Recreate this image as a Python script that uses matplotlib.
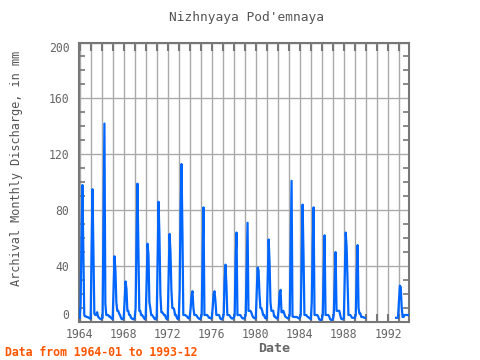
import numpy as np
import matplotlib
matplotlib.use("Agg")
import matplotlib.pyplot as plt
from matplotlib.ticker import MultipleLocator

title = "Nizhnyaya Pod'emnaya"
ylabel = "Archival Monthly Discharge, in mm"
xlabel = "Date"
note = "Data from 1964-01 to 1993-12"

years = list(range(1964, 1994))
nan = np.nan
# monthly values (Jan..Dec) per year, mm
v1964 = [3, 12, 58, 98, 54, 5, 4, 4, 3.5, 3.5, 3, 2.5]
v1965 = [2.5, 52, 95, 51, 6, 5, 5, 7, 4, 3, 2.5, 2]
v1966 = [2.5, 3, 74, 142, 13, 5, 5, 5, 4, 4, 3, 2.5]
v1967 = [2, 25, 47, 37, 14, 8, 8, 6, 5, 3, 2, 2]
v1968 = [3, 15, 29, 24, 8, 8, 5, 5, 3, 2.5, 2, 2]
v1969 = [3, 10, 58, 99, 54, 8, 8, 5, 5, 4, 3, 2]
v1970 = [4, 28, 56, 48, 14, 10, 5, 5, 4, 3, 2, 2]
v1971 = [4, 43, 86, 61, 20, 7, 7, 6, 5, 5, 3, 2]
v1972 = [3, 32, 63, 50, 23, 10, 10, 9, 5, 5, 3, 2]
v1973 = [3, 22, 79, 113, 66, 5, 5, 5, 4.5, 4, 3, 2.5]
v1974 = [4, 10, 19, 22, 10, 5, 5, 5, 4, 3, 2.5, 2]
v1975 = [3, 5, 46, 82, 5, 5, 5, 5, 4, 3, 3, 2.5]
v1976 = [3, 10, 20, 22, 15, 5, 5, 5, 5, 3, 2, 2]
v1977 = [3, 5, 29, 41, 26, 5, 5, 5, 4, 3, 2.5, 2.5]
v1978 = [3, 5, 45, 64, 5, 5, 5, 5, 4, 3, 2.5, 2.5]
v1979 = [3, 5, 37, 71, 8, 8, 8, 7, 5, 3.5, 3, 2.5]
v1980 = [3, 20, 39, 37, 20, 10, 10, 8, 5, 5, 3, 2.5]
v1981 = [3, 30, 59, 43, 14, 8, 8, 8, 4, 4, 3, 2.5]
v1982 = [3, 10, 21, 23, 7, 7, 8, 6, 4, 3.5, 3, 2.5]
v1983 = [3, 5, 54, 101, 4, 3.6, 3.6, 3.6, 3.6, 3.5, 3, 2.5]
v1984 = [3, 5, 47, 84, 49, 5, 5, 5, 4, 3.5, 3, 2.5]
v1985 = [2, 14, 54, 82, 5, 5, 5, 5, 4, 2, 1.5, 1.5]
v1986 = [2, 5, 36, 62, 5, 5, 5, 5, 4, 2, 1.5, 1.5]
v1987 = [2, 5, 29, 50, 8, 8, 8, 8, 5, 2.5, 2, 2]
v1988 = [3, 33, 64, 54, 30, 5, 5, 5, 4, 3, 3, 3]
v1989 = [3, 5, 36, 55, 10, 6, 6, 3.6, 3.6, 3.6, 3, 3]
v1990 = [nan] * 12
v1991 = [nan] * 12
v1992 = [nan] * 9 + [3, 3, 3]
v1993 = [14, 26, 25, 11, 3.6, 3.6, 5, 5, 5, 5, 5, 5]

series = [v1964, v1965, v1966, v1967, v1968, v1969, v1970, v1971, v1972, v1973,
          v1974, v1975, v1976, v1977, v1978, v1979, v1980, v1981, v1982, v1983,
          v1984, v1985, v1986, v1987, v1988, v1989, v1990, v1991, v1992, v1993]

t = []
vals = []
for y, row in zip(years, series):
    for m, v in enumerate(row):
        t.append(y + m / 12.0)
        vals.append(v)
t = np.array(t)
vals = np.array(vals, dtype=float)

mono = "DejaVu Sans Mono"
fig = plt.figure(figsize=(4.8, 3.6), dpi=100)
ax = fig.add_axes([79 / 480, 1 - 322 / 360, 330 / 480, 279.5 / 360])

frame = "#777777"
ax.plot(t, vals, color="#0066ff", lw=1.6, zorder=3)

ax.set_xlim(1964 - 0.06, 1993 + 11 / 12)
ax.set_ylim(0, 200)
ax.xaxis.set_major_locator(MultipleLocator(4))
ax.xaxis.set_minor_locator(MultipleLocator(1))
ax.yaxis.set_major_locator(MultipleLocator(40))
ax.yaxis.set_minor_locator(MultipleLocator(10))
ax.grid(which="minor", axis="x", color="#aaaaaa", lw=1)
ax.grid(which="major", axis="x", color="#aaaaaa", lw=1)
ax.grid(which="major", axis="y", color="#aaaaaa", lw=1)
ax.set_axisbelow(True)

ax.tick_params(axis="x", which="both", direction="in", top=True, bottom=True,
               length=6, width=1.5, color=frame, labelsize=8.3, labelcolor="#666666", pad=4)
ax.tick_params(axis="y", which="major", direction="in", left=True, right=True,
               length=0, labelsize=8.3, labelcolor="#666666", pad=7)
ax.tick_params(axis="y", which="minor", direction="in", left=True, right=True,
               length=4, width=1.2, color=frame)
for sp in ax.spines.values():
    sp.set_color(frame)
    sp.set_linewidth(1.5)

for lab in ax.get_xticklabels() + ax.get_yticklabels():
    lab.set_family(mono)
fig.canvas.draw()
for lab in ax.get_yticklabels():
    txt = lab.get_text()
    if txt == "200":
        lab.set_va("top")
    elif txt == "0":
        lab.set_va("bottom")

fig.text(247 / 480, 1 - 17 / 360, title, ha="center", va="center",
         family=mono, fontsize=9.3, color="#555555")
fig.text(17 / 480, 1 - 168 / 360, ylabel, ha="center", va="center", rotation=90,
         family=mono, fontsize=8.6, color="#555555")
fig.text(274 / 480, 1 - 348 / 360, xlabel, ha="center", va="center",
         family=mono, fontsize=9.5, color="#666666", fontweight="bold")
fig.text(5 / 480, 1 - 352 / 360, note, ha="left", va="center",
         family=mono, fontsize=8.3, color="#ff5500", fontweight="bold")

fig.savefig("out.png", dpi=100)
